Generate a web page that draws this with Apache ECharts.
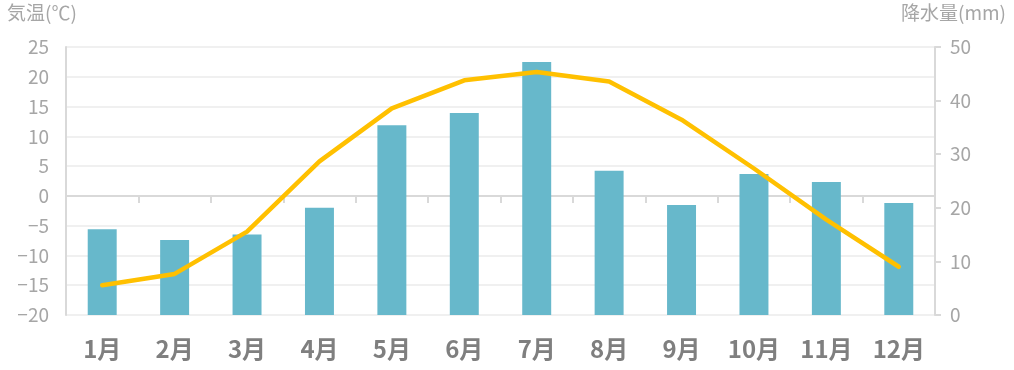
<!DOCTYPE html>
<html>
<head>
<meta charset="utf-8">
<script src="https://cdn.jsdelivr.net/npm/echarts@6/dist/echarts.min.js"></script>
<style>
html,body{margin:0;padding:0;background:#fff;}
#chart{width:1014px;height:370px;}
</style>
</head>
<body>
<div id="chart"></div>
<script>
const months = ['1月','2月','3月','4月','5月','6月','7月','8月','9月','10月','11月','12月'];
const temperature = [-15.0, -13.1, -6.0, 5.8, 14.7, 19.4, 20.8, 19.2, 12.8, 4.6, -4.0, -11.9];
const precipitation = [16.0, 14.0, 15.0, 20.0, 35.4, 37.7, 47.2, 26.9, 20.5, 26.3, 24.8, 20.9];
const tempTicks = { min: -20, max: 25, step: 5 };
const precTicks = { min: 0, max: 50, step: 10 };
const tempAxisTitle = '気温(℃)';
const precAxisTitle = '降水量(mm)';

const FONT = '"Noto Sans CJK JP", "Noto Sans", sans-serif';
const chart = echarts.init(document.getElementById('chart'));
const minus = v => String(v).replace('-', '\u2212');

const plotTop = 47, plotBottom = 55, H = 370;
const plotH = H - plotTop - plotBottom;
const zeroY = plotTop + plotH * (tempTicks.max - 0) / (tempTicks.max - tempTicks.min);

chart.setOption({
  animation: false,
  backgroundColor: '#ffffff',
  textStyle: { fontFamily: FONT },
  grid: [
    { left: 66, right: 79, top: plotTop, bottom: plotBottom, containLabel: false },
    { left: 66, right: 79, top: plotTop, bottom: H - zeroY, containLabel: false }
  ],
  graphic: [
    { type: 'text', left: 7, top: 3, style: { text: tempAxisTitle, fill: '#a6a6a6', font: '19px ' + FONT } },
    { type: 'text', right: 8, top: 3, style: { text: precAxisTitle, fill: '#a6a6a6', font: '19px ' + FONT } }
  ],
  xAxis: [
    {
      type: 'category', data: months, position: 'bottom', gridIndex: 0,
      axisLine: { show: false, onZero: false },
      axisTick: { show: false },
      axisLabel: { color: '#7f7f7f', fontSize: 24, fontWeight: 'bold', margin: 22, fontFamily: FONT },
      splitLine: { show: false }
    },
    {
      type: 'category', data: months, position: 'bottom', gridIndex: 1,
      axisLine: { show: true, onZero: false, lineStyle: { color: '#d9d9d9', width: 2 } },
      axisTick: { show: true, length: 7, lineStyle: { color: '#d9d9d9', width: 2 } },
      axisLabel: { show: false },
      splitLine: { show: false }
    }
  ],
  yAxis: [
    {
      type: 'value', position: 'left', gridIndex: 0,
      min: tempTicks.min, max: tempTicks.max, interval: tempTicks.step,
      axisLine: { show: true, onZero: false, lineStyle: { color: '#d9d9d9', width: 2 } },
      axisTick: { show: false },
      axisLabel: { color: '#a6a6a6', fontSize: 19, margin: 17, formatter: minus, fontFamily: FONT },
      splitLine: { show: true, lineStyle: { color: '#f0f0f0', width: 2 } }
    },
    {
      type: 'value', position: 'right', gridIndex: 0,
      min: precTicks.min, max: precTicks.max, interval: precTicks.step,
      axisLine: { show: true, onZero: false, lineStyle: { color: '#d9d9d9', width: 2 } },
      axisTick: { show: true, length: 6, lineStyle: { color: '#d9d9d9', width: 2 } },
      axisLabel: { color: '#a6a6a6', fontSize: 19, margin: 15, fontFamily: FONT },
      splitLine: { show: false }
    },
    {
      type: 'value', gridIndex: 1, show: false, min: 0, max: 1,
      splitLine: { show: false }
    }
  ],
  series: [
    {
      name: '降水量', type: 'bar', xAxisIndex: 0, yAxisIndex: 1,
      data: precipitation, barWidth: '40%',
      itemStyle: { color: '#67b8cb' }, z: 2
    },
    {
      name: '気温', type: 'line', xAxisIndex: 0, yAxisIndex: 0,
      data: temperature, showSymbol: false, symbol: 'none',
      lineStyle: { color: '#ffc000', width: 4.5, cap: 'round', join: 'round' }, z: 3
    }
  ]
});
</script>
</body>
</html>
